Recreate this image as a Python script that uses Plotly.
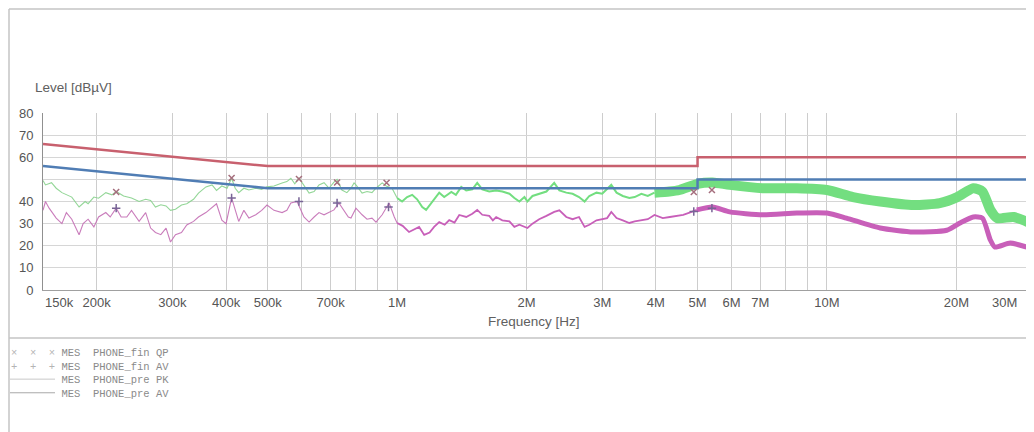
import plotly.graph_objects as go

# ---------------- data (frequency in MHz, level in dBuV) ----------------
qp_limit_freq = [0.15, 0.5, 5.0, 5.0, 30.0]
qp_limit_lvl = [66, 56, 56, 60, 60]
av_limit_freq = [0.15, 0.5, 5.0, 5.0, 30.0]
av_limit_lvl = [56, 46, 46, 50, 50]

# PHONE_pre PK (green), 150k-1M
pk_freq_a = [0.150, 0.152, 0.157, 0.161, 0.166, 0.170, 0.175, 0.182, 0.188, 0.191, 0.197, 0.202,
             0.210, 0.217, 0.222, 0.231, 0.241, 0.251, 0.260, 0.267, 0.274, 0.282, 0.290, 0.297,
             0.305, 0.315, 0.324, 0.336, 0.345, 0.359, 0.371, 0.380, 0.391, 0.402, 0.412, 0.420,
             0.428, 0.440, 0.452, 0.469, 0.484, 0.498, 0.517, 0.540, 0.554, 0.566, 0.578, 0.591,
             0.607, 0.624, 0.641, 0.658, 0.676, 0.694, 0.713, 0.725, 0.744, 0.764, 0.781, 0.794,
             0.802, 0.829, 0.851, 0.874, 0.893, 0.923, 0.943, 0.973, 1.000]
pk_lvl_a = [49.5, 47.5, 48.5, 46.0, 44.0, 43.0, 42.0, 37.5, 40.0, 39.0, 42.0, 41.5,
            44.0, 43.0, 44.5, 42.5, 41.6, 40.0, 41.0, 40.5, 37.5, 38.5, 38.0, 36.0,
            36.5, 38.4, 39.0, 41.0, 43.8, 46.6, 47.5, 45.0, 47.0, 46.0, 50.5, 46.0,
            44.0, 46.0, 45.2, 46.0, 45.5, 46.6, 47.0, 48.4, 49.0, 50.5, 48.0, 50.6,
            47.0, 43.8, 44.5, 47.5, 48.5, 46.0, 48.8, 50.0, 45.2, 44.0, 46.0, 48.4,
            47.5, 43.8, 44.5, 44.0, 46.0, 48.4, 47.0, 46.0, 41.6]
# PHONE_pre PK, 1M-4M
pk_freq_b = [1.000, 1.027, 1.055, 1.084, 1.113, 1.144, 1.168, 1.200, 1.233, 1.253, 1.287, 1.337,
             1.370, 1.410, 1.448, 1.496, 1.536, 1.578, 1.638, 1.700, 1.757, 1.825, 1.874, 1.925,
             1.978, 2.010, 2.065, 2.140, 2.225, 2.320, 2.385, 2.475, 2.560, 2.650, 2.730, 2.800,
             2.910, 3.000, 3.150, 3.240, 3.350, 3.470, 3.570, 3.700, 3.830, 3.970]
pk_lvl_b = [41.6, 40.0, 42.0, 43.0, 41.0, 37.5, 36.2, 39.0, 42.0, 44.0, 42.0, 44.3,
            43.0, 46.6, 45.0, 45.5, 48.4, 45.5, 44.5, 45.0, 44.5, 43.5, 41.6, 40.0,
            42.0, 40.0, 42.5, 43.5, 44.5, 48.4, 45.0, 44.0, 43.5, 42.0, 40.0, 42.5,
            44.0, 43.5, 47.5, 44.0, 42.5, 41.6, 42.0, 43.5, 42.5, 44.0]
# PHONE_pre PK, 4M-30M (dense sweep)
pk_freq_c = [3.97, 4.30, 4.54, 5.00, 5.42, 5.94, 7.09, 8.51, 10.0, 11.5, 13.3, 15.9,
             18.3, 20.1, 21.9, 23.0, 24.0, 24.9, 27.2, 29.7, 30.0]
pk_lvl_c = [44.0, 44.5, 45.2, 48.0, 48.6, 47.5, 46.0, 46.0, 45.2, 42.0, 40.0, 38.4,
            39.3, 42.0, 46.0, 44.5, 36.2, 32.5, 33.0, 30.3, 30.0]

# PHONE_pre AV (magenta), 150k-1M
av_freq_a = [0.150, 0.152, 0.155, 0.161, 0.166, 0.170, 0.175, 0.182, 0.186, 0.191, 0.197, 0.202,
             0.210, 0.215, 0.222, 0.228, 0.235, 0.241, 0.251, 0.260, 0.267, 0.274, 0.282, 0.290,
             0.297, 0.305, 0.315, 0.324, 0.336, 0.345, 0.359, 0.371, 0.380, 0.391, 0.400, 0.412,
             0.420, 0.428, 0.440, 0.452, 0.469, 0.484, 0.498, 0.517, 0.540, 0.554, 0.566, 0.585,
             0.607, 0.624, 0.641, 0.658, 0.676, 0.713, 0.732, 0.751, 0.770, 0.781, 0.802, 0.829,
             0.851, 0.874, 0.893, 0.923, 0.943, 0.958, 0.985, 1.000]
av_lvl_a = [36.0, 40.0, 37.0, 32.5, 30.0, 35.0, 32.0, 25.0, 30.0, 32.0, 28.5, 33.0,
            35.0, 33.0, 37.0, 33.0, 33.0, 36.0, 31.0, 35.0, 28.0, 26.0, 25.0, 28.0,
            21.7, 25.0, 26.0, 29.4, 31.0, 33.0, 35.0, 37.5, 39.0, 31.6, 30.0, 41.6,
            36.0, 31.0, 36.0, 32.5, 34.0, 36.0, 38.4, 36.0, 35.0, 36.0, 39.3, 40.0,
            33.0, 30.7, 33.0, 35.0, 34.0, 36.2, 39.3, 36.0, 33.0, 32.5, 37.0, 34.0,
            32.0, 32.5, 30.7, 34.0, 37.0, 39.3, 33.0, 30.3]
# PHONE_pre AV, 1M-5M
av_freq_b = [1.000, 1.030, 1.066, 1.100, 1.125, 1.156, 1.190, 1.219, 1.253, 1.290, 1.322, 1.360,
             1.395, 1.448, 1.496, 1.536, 1.578, 1.638, 1.670, 1.700, 1.757, 1.825, 1.874, 1.925,
             2.010, 2.065, 2.140, 2.225, 2.320, 2.385, 2.475, 2.560, 2.650, 2.730, 2.800, 2.910,
             3.000, 3.080, 3.150, 3.240, 3.350, 3.470, 3.570, 3.700, 3.830, 3.970, 4.150, 4.310,
             4.470, 4.630, 4.790, 4.980]
av_lvl_b = [30.3, 29.0, 26.2, 27.5, 28.5, 24.9, 26.0, 28.5, 30.7, 29.5, 31.6, 30.5,
            33.9, 33.0, 34.5, 36.2, 34.0, 33.5, 31.5, 33.0, 31.5, 31.0, 28.5, 29.5,
            28.0, 30.0, 32.0, 33.5, 35.3, 36.0, 33.0, 32.0, 33.0, 28.5, 29.5, 31.5,
            32.0, 32.5, 35.3, 32.5, 31.5, 30.3, 31.0, 31.5, 32.0, 33.9, 32.5, 33.0,
            33.5, 34.0, 35.0, 36.2]
# PHONE_pre AV, 5M-30M (dense sweep)
av_freq_c = [4.98, 5.42, 5.94, 7.09, 8.51, 10.0, 11.1, 13.3, 15.9, 19.0, 20.4, 21.9,
             23.0, 24.0, 24.6, 26.7, 29.7, 30.0]
av_lvl_c = [36.2, 37.5, 35.3, 34.0, 34.8, 34.8, 32.5, 28.0, 26.2, 27.0, 30.3, 33.0,
            32.5, 22.6, 19.4, 21.2, 19.0, 19.0]

# final measurements
fin_qp_freq = [0.222, 0.412, 0.591, 0.725, 0.945, 4.90, 5.40]
fin_qp_lvl = [44.3, 50.6, 50.2, 48.6, 48.5, 44.3, 45.2]
fin_av_freq = [0.222, 0.412, 0.591, 0.725, 0.955, 4.90, 5.40]
fin_av_lvl = [37.0, 41.6, 40.0, 39.3, 37.5, 35.5, 37.0]

tick_vals = [0.2, 0.3, 0.4, 0.5, 0.6, 0.7, 0.8, 0.9, 1, 2, 3, 4, 5, 6, 7, 8, 9, 10, 20, 30]
tick_text = ["200k", "300k", "400k", "500k", "", "700k", "", "", "1M", "2M", "3M", "4M",
             "5M", "6M", "7M", "", "", "10M", "20M", ""]
y_vals = [0, 10, 20, 30, 40, 50, 60, 70, 80]
y_text = ["0", "10", "20", "30", "40", "", "60", "70", "80"]

legend_symbols = ["×  ×  ×", "+  +  +", "", ""]
legend_rows = ["MES  PHONE_fin QP", "MES  PHONE_fin AV", "MES  PHONE_pre PK", "MES  PHONE_pre AV"]

# ---------------- figure ----------------
# page body has an 8px margin, so the figure starts at screen (8, 8)
OFF = 8
W, H = 1034 - OFF, 432 - OFF
L, R, T, B = 35, 2, 105, 142
PW, PH = W - L - R, H - T - B


def px(x):  # screen x -> paper
    return (x - OFF - L) / PW


def py(y):  # screen y -> paper
    return (H - B - (y - OFF)) / PH


GREEN_THIN = "rgba(135,210,140,0.9)"
GREEN = "rgb(115,222,128)"
MAG_THIN = "rgba(195,110,180,0.9)"
MAG = "rgb(200,95,185)"

fig = go.Figure()

fig.add_trace(go.Scatter(x=pk_freq_a, y=pk_lvl_a, mode="lines",
                         line=dict(color=GREEN_THIN, width=1.1)))
fig.add_trace(go.Scatter(x=pk_freq_b, y=pk_lvl_b, mode="lines",
                         line=dict(color=GREEN, width=2)))
fig.add_trace(go.Scatter(x=pk_freq_c, y=pk_lvl_c, mode="lines",
                         line=dict(color=GREEN, width=10, shape="spline", smoothing=0.6)))
fig.add_trace(go.Scatter(x=av_freq_a, y=av_lvl_a, mode="lines",
                         line=dict(color=MAG_THIN, width=1.1)))
fig.add_trace(go.Scatter(x=av_freq_b, y=av_lvl_b, mode="lines",
                         line=dict(color=MAG, width=1.8)))
fig.add_trace(go.Scatter(x=av_freq_c, y=av_lvl_c, mode="lines",
                         line=dict(color=MAG, width=5, shape="spline", smoothing=0.6)))

fig.add_trace(go.Scatter(x=qp_limit_freq, y=qp_limit_lvl, mode="lines",
                         line=dict(color="rgb(200,96,110)", width=2.5)))
fig.add_trace(go.Scatter(x=av_limit_freq, y=av_limit_lvl, mode="lines",
                         line=dict(color="rgb(80,125,180)", width=2.5)))

fig.add_trace(go.Scatter(x=fin_qp_freq, y=fin_qp_lvl, mode="markers",
                         marker=dict(symbol="x-thin", size=6,
                                     line=dict(color="rgb(165,110,125)", width=1.5))))
fig.add_trace(go.Scatter(x=fin_av_freq, y=fin_av_lvl, mode="markers",
                         marker=dict(symbol="cross-thin", size=6,
                                     line=dict(color="rgb(120,100,150)", width=1.5))))

axis_font = dict(family="Liberation Sans, Arial, sans-serif", size=13, color="#555555")

fig.update_xaxes(type="log", range=[-0.8239, 1.4771], tickvals=tick_vals, ticktext=tick_text,
                 showgrid=True, gridcolor="#cdcdcd", gridwidth=1, ticks="",
                 showline=True, linecolor="#a0a0a0", linewidth=1, zeroline=False,
                 tickfont=axis_font, tickangle=0)
fig.update_yaxes(range=[0, 80], tickvals=y_vals, ticktext=y_text,
                 showgrid=True, gridcolor="#d6d6d6", gridwidth=1, ticks="",
                 showline=True, linecolor="#909090", linewidth=1, zeroline=False,
                 tickfont=axis_font, ticklabelstandoff=6)

annotations = [
    dict(text="Level [dBµV]", x=px(33), y=py(87), xanchor="left", yanchor="middle",
         font=dict(family="Liberation Sans, Arial, sans-serif", size=13.5, color="#606060")),
    dict(text="Frequency [Hz]", x=px(534), y=py(321), xanchor="center", yanchor="middle",
         font=dict(family="Liberation Sans, Arial, sans-serif", size=13.5, color="#606060")),
    dict(text="150k", x=px(43), y=py(302.5), xanchor="left", yanchor="middle", font=axis_font),
    dict(text="30M", x=px(1019), y=py(302.5), xanchor="right", yanchor="middle", font=axis_font),
]

# legend block: one multi-line text so rows stay on a fixed pitch
LEG_SIZE = 10.5
pitch = LEG_SIZE * 1.3
lines = []
for sym, txt in zip(legend_symbols, legend_rows):
    pad = sym if sym else "       "
    lines.append(f"<span style='color:#b4b4b4'>{pad}</span> {txt}")
leg_top = 345
annotations.append(dict(text="<br>".join(lines), x=px(9), y=py(leg_top), xanchor="left",
                        yanchor="top", align="left",
                        font=dict(family="Liberation Mono, DejaVu Sans Mono, monospace",
                                  size=LEG_SIZE, color="#8a8a8a")))

for a in annotations:
    a.update(xref="paper", yref="paper", showarrow=False)

row_centers = [leg_top + pitch * (i + 0.5) for i in range(4)]
frame = dict(color="#c4c4c4", width=1.5)
shapes = [
    dict(type="line", x0=px(9), x1=px(1034), y0=py(9), y1=py(9), line=frame),
    dict(type="line", x0=px(9), x1=px(9), y0=py(9), y1=py(432), line=frame),
    dict(type="line", x0=px(9), x1=px(1034), y0=py(338), y1=py(338), line=frame),
    dict(type="line", x0=px(10), x1=px(55), y0=py(row_centers[2]), y1=py(row_centers[2]),
         line=dict(color="#c8c8c8", width=1)),
    dict(type="line", x0=px(10), x1=px(55), y0=py(row_centers[3]), y1=py(row_centers[3]),
         line=dict(color="#a8a8a8", width=1)),
]
for s in shapes:
    s.update(xref="paper", yref="paper", layer="above")

fig.update_layout(width=W, height=H, margin=dict(l=L, r=R, t=T, b=B, pad=0),
                  paper_bgcolor="white", plot_bgcolor="white", showlegend=False,
                  annotations=annotations, shapes=shapes, hovermode=False)

fig.write_html("out.html")
